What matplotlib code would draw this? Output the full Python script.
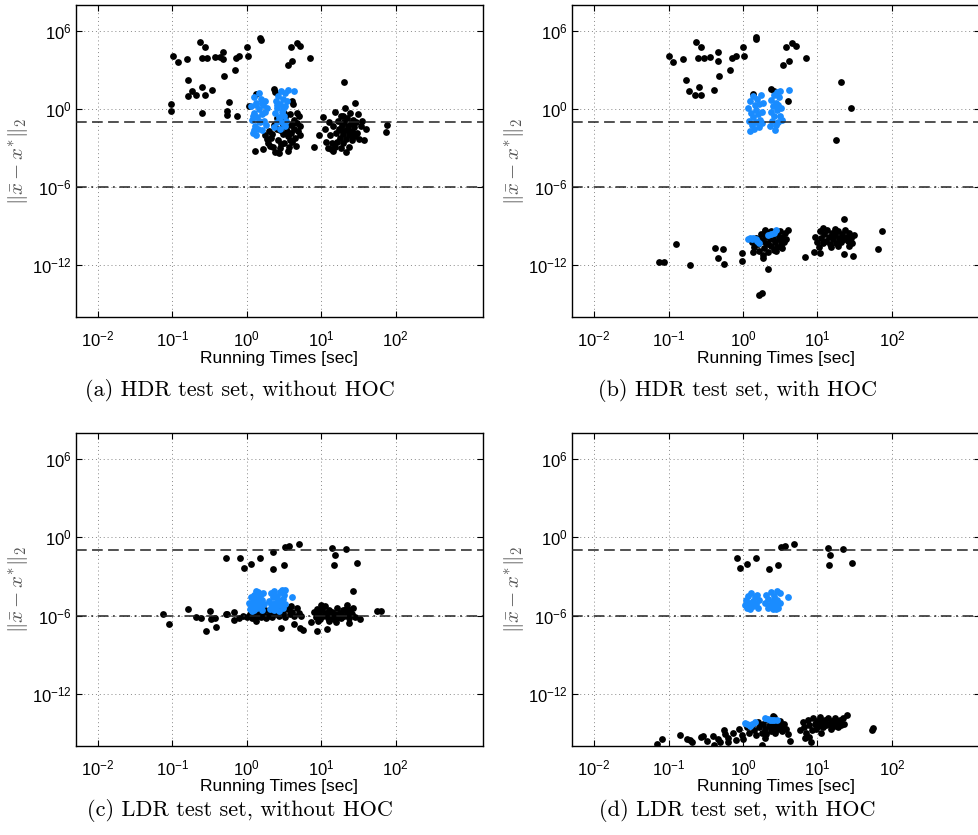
import numpy as np
import matplotlib
matplotlib.use("Agg")
import matplotlib.pyplot as plt
from matplotlib.ticker import FixedLocator, FixedFormatter, NullLocator

plt.rcParams['font.family'] = ['Liberation Sans', 'DejaVu Sans']
plt.rcParams['mathtext.fontset'] = 'custom'
plt.rcParams['mathtext.rm'] = 'Liberation Sans'
plt.rcParams['mathtext.it'] = 'Liberation Sans:italic'
plt.rcParams['mathtext.sf'] = 'Liberation Sans'

# ---- data: (log10 running time [sec], log10 error) ----
a_black = [(-0.995,4.10),(-0.93,3.59),(-0.80,3.82),(-0.63,5.13),(-0.565,4.74),(-0.60,3.92),(-0.53,3.92),
           (-0.43,4.03),(-0.354,4.03),(-0.32,4.41),(-0.32,3.85),(-0.14,3.92),(-0.11,4.05),(0.00,4.74),
           (0.01,4.10),(-0.16,3.03),(-0.31,2.51),(-0.79,2.21),(-0.74,1.36),(-0.79,1.00),(-0.68,1.10),
           (-0.60,1.69),(-0.565,1.10),(-0.47,1.44),(-1.02,0.38),(-1.02,-0.13),(-0.605,-0.33),(-0.24,0.51),
           (-0.26,-0.15),(-0.26,-0.46),(-0.13,-0.51),(0.03,0.23),(0.18,5.46),(0.19,5.28),(0.59,4.74),
           (0.67,5.05),(0.72,4.85),(0.555,3.41),(0.61,3.67),(0.85,3.90),(1.31,2.05),(1.89,-1.23),
           (1.87,-1.79),(0.90,-2.95),(0.11,-3.21),(0.12,1.15),(0.37,1.54),(0.38,1.33),(0.61,0.64),(0.62,0.38),
           # cluster near 2-5 s
           (0.25,-2.0),(0.28,-2.6),(0.22,-3.1),(0.30,-1.7),(0.33,-2.2),(0.35,-2.9),(0.38,-3.3),(0.40,-1.5),
           (0.42,-2.4),(0.45,-3.0),(0.47,-1.0),(0.48,-1.9),(0.50,-2.6),(0.52,-0.6),(0.53,-1.4),(0.55,-2.1),
           (0.56,-3.2),(0.58,-0.4),(0.59,-1.2),(0.60,-1.8),(0.61,-2.5),(0.63,-0.8),(0.64,-1.5),(0.65,-2.2),
           (0.66,-2.8),(0.68,-1.1),(0.69,-1.7),(0.70,-0.5),(0.71,-2.0),(0.72,-1.3),(0.36,-1.2),(0.40,-0.7),
           (0.44,-1.6),(0.50,-0.3),(0.27,-2.3),(0.31,-2.8),(0.34,-1.9),(0.46,-2.7),(0.54,-1.7),(0.57,-2.9),
           (0.62,-1.1),(0.67,-0.3),(0.43,-3.4),(0.49,-1.2),(0.58,-2.4),
           # cluster near 10-40 s
           (0.97,-2.0),(1.02,-0.6),(1.05,-1.5),(1.07,-2.5),(1.10,-1.0),(1.12,-2.0),(1.14,-2.6),(1.16,-1.3),
           (1.18,-0.2),(1.20,-1.8),(1.21,-2.5),(1.22,-0.9),(1.24,-1.5),(1.25,-2.2),(1.26,-3.0),(1.27,-0.5),
           (1.28,-1.2),(1.29,-1.9),(1.30,-2.6),(1.31,-1.0),(1.32,0.1),(1.33,-1.6),(1.34,-2.3),(1.35,-0.7),
           (1.36,-1.3),(1.37,-2.0),(1.38,-2.9),(1.39,-0.3),(1.40,-1.1),(1.41,-1.7),(1.42,-2.4),(1.43,-0.8),
           (1.44,-1.4),(1.45,-2.1),(1.46,0.5),(1.47,-1.0),(1.48,-1.8),(1.50,-0.4),(1.51,-2.3),(1.53,-1.3),
           (1.55,-0.9),(1.57,-2.4),(1.60,-1.5),(1.13,-3.1),(1.16,-3.2),(1.33,-3.3),(1.30,-0.5),(1.36,-1.6),
           (1.40,-2.0),(1.26,-1.6),(1.44,-1.1),(1.19,-2.9),(1.09,-3.0)]
a_blue = [(0.06,0.2),(0.07,-0.8),(0.08,-1.8),(0.09,0.9),(0.10,-0.3),(0.11,-1.3),(0.12,-2.0),(0.13,0.5),
          (0.14,-0.6),(0.15,-1.5),(0.16,1.2),(0.17,0.0),(0.18,-1.0),(0.19,0.8),(0.20,-0.4),(0.21,-1.6),
          (0.22,0.3),(0.23,-0.9),(0.24,0.6),(0.25,-0.2),(0.26,-1.2),(0.27,0.1),(0.08,-0.5),(0.12,0.3),
          (0.16,-0.9),(0.20,0.5),(0.10,-1.6),
          (0.37,-1.4),(0.38,-0.3),(0.39,0.6),(0.40,-1.0),(0.41,0.1),(0.42,1.0),(0.43,-0.6),(0.44,-1.5),
          (0.45,0.4),(0.46,1.4),(0.47,-0.2),(0.48,-1.1),(0.49,0.8),(0.50,-0.5),(0.51,1.2),(0.52,0.2),
          (0.53,-0.9),(0.54,0.6),(0.55,1.5),(0.40,0.3),(0.44,-0.9),(0.48,0.0),(0.52,-1.3),(0.63,1.41)]

b_black = [(-1.00,4.10),(-0.94,3.59),(-0.80,3.82),(-0.63,5.13),(-0.565,4.74),(-0.60,3.92),(-0.52,3.92),
           (-0.44,4.03),(-0.34,4.41),(-0.34,3.72),(-0.15,3.92),(-0.09,4.05),(0.00,4.74),(0.01,4.10),
           (-0.17,3.03),(-0.32,2.51),(-0.77,2.21),(-0.73,1.36),(-0.65,1.10),(-0.59,1.69),(-0.565,1.10),
           (-0.39,1.44),(0.17,5.38),(0.18,5.51),(0.58,4.74),(0.66,5.05),(0.71,4.85),(0.54,3.41),(0.62,3.67),
           (0.85,3.90),(1.31,2.05),(1.45,0.05),(1.25,-2.36),(0.61,0.64),(0.14,1.15),(0.38,1.54),(0.41,1.36),
           # lower points
           (-1.125,-11.72),(-1.06,-11.72),(-0.906,-10.38),(-0.71,-11.95),(-0.377,-10.69),(-0.27,-10.77),
           (-0.33,-11.41),(-0.26,-11.87),(-0.01,-11.03),(-0.01,-11.67),(0.13,-10.95),(0.30,-9.31),
           (0.34,-12.31),(0.22,-14.28),(0.25,-14.15),(0.27,-11.41),(0.83,-11.38),(0.95,-10.95),(1.04,-11.03),
           (1.36,-8.41),(1.35,-11.15),(1.48,-11.28),(1.81,-10.77),(1.86,-9.36),
           (0.12,-10.2),(0.15,-10.6),(0.18,-9.9),(0.20,-10.4),(0.22,-10.9),(0.24,-9.6),(0.26,-10.1),
           (0.28,-10.7),(0.30,-9.8),(0.31,-10.3),(0.33,-11.0),(0.35,-9.5),(0.36,-10.0),(0.38,-10.5),
           (0.40,-9.9),(0.41,-10.8),(0.43,-10.2),(0.45,-9.6),(0.46,-10.6),(0.48,-10.0),(0.50,-9.4),
           (0.51,-10.4),(0.53,-9.8),(0.55,-10.2),(0.57,-9.5),(0.58,-10.0),(0.60,-9.3),(0.27,-11.2),
           (0.22,-10.0),(0.34,-10.4),(0.44,-10.9),(0.52,-10.7),(0.38,-9.4),(0.29,-9.4),
           (0.97,-9.8),(1.00,-10.2),(1.03,-9.4),(1.05,-9.9),(1.07,-10.3),(1.09,-9.6),(1.11,-10.1),
           (1.13,-9.3),(1.15,-9.8),(1.17,-10.4),(1.19,-9.5),(1.21,-10.0),(1.23,-9.7),(1.25,-10.3),
           (1.27,-9.4),(1.29,-9.9),(1.31,-10.2),(1.33,-9.6),(1.35,-10.0),(1.37,-9.3),(1.39,-9.8),
           (1.41,-10.1),(1.43,-9.5),(1.45,-9.9),(1.47,-10.3),(1.49,-9.7),(1.08,-9.1),(1.18,-10.6),
           (1.28,-10.5),(1.42,-10.5),(1.02,-10.6),(1.24,-9.2)]
b_blue = [(0.07,0.1),(0.08,-0.9),(0.09,-1.7),(0.10,0.6),(0.11,-0.3),(0.12,-1.2),(0.13,1.0),(0.14,-0.6),
          (0.15,-1.5),(0.16,0.3),(0.17,-0.1),(0.18,-1.0),(0.19,0.8),(0.20,-0.4),(0.21,-1.4),(0.22,0.4),
          (0.23,-0.8),(0.24,1.1),(0.25,-0.2),(0.26,-1.1),(0.27,0.5),(0.36,-1.3),(0.37,-0.2),(0.38,0.7),
          (0.39,-0.9),(0.40,0.2),(0.41,1.1),(0.42,-0.5),(0.43,-1.6),(0.44,0.5),(0.45,1.3),(0.46,-0.1),
          (0.47,-1.0),(0.48,0.9),(0.49,-0.5),(0.50,1.4),(0.51,0.1),(0.52,-0.8),(0.44,-1.2),(0.47,0.3),
          (0.62,1.46),
          (0.07,-9.95),(0.10,-9.9),(0.14,-9.87),(0.17,-10.0),(0.21,-10.26),(0.19,-10.1),(0.34,-9.69),
          (0.37,-9.6),(0.41,-9.49),(0.44,-9.28),(0.12,-10.0)]

c_black = [(-0.28,-1.56),(-0.085,-1.56),(-0.04,-2.33),(0.05,-2.03),(0.18,-1.56),(0.35,-1.13),(0.35,-2.41),
           (0.51,-0.74),(0.57,-0.67),(0.50,-2.08),(0.70,-0.54),(1.15,-0.79),(1.18,-1.33),(1.17,-2.15),
           (1.34,-0.90),(1.48,-2.0),(1.43,-4.15),
           (-1.13,-5.92),(-1.05,-6.62),(-0.79,-5.49),(-0.69,-6.10),(-0.61,-6.21),(-0.55,-7.18),(-0.49,-5.64),
           (-0.48,-6.26),(-0.41,-6.87),(-0.43,-6.20),(-0.28,-5.87),(-0.26,-5.87),(-0.17,-5.74),(-0.17,-6.38),
           (-0.10,-6.2),(-0.05,-6.05),(0.46,-6.95),(0.63,-6.62),(0.72,-6.97),(0.76,-7.08),(0.86,-6.51),
           (0.94,-7.15),(1.08,-7.0),(1.35,-5.18),(1.75,-5.64),(1.80,-5.67),(0.12,-6.4),(1.52,-6.3),(1.38,-6.6),
           (0.00,-6.1),(0.04,-5.9),(0.07,-6.2),(0.10,-5.8),(0.13,-6.0),(0.16,-5.7),(0.19,-6.1),(0.22,-5.9),
           (0.25,-5.6),(0.28,-6.0),(0.31,-5.8),(0.34,-6.1),(0.37,-5.7),(0.40,-5.9),(0.43,-6.0),(0.46,-5.6),
           (0.49,-5.8),(0.52,-6.1),(0.55,-5.5),(0.58,-5.9),(0.61,-5.7),(0.64,-6.0),(0.67,-5.4),(0.70,-5.8),
           (0.20,-5.5),(0.35,-5.4),(0.50,-5.3),(0.60,-5.3),(0.73,-6.0),(0.26,-6.2),
           (0.90,-5.7),(0.93,-6.1),(0.95,-5.5),(0.97,-5.9),(0.99,-6.3),(1.01,-5.6),(1.03,-6.0),(1.05,-5.3),
           (1.07,-5.8),(1.09,-6.2),(1.11,-5.6),(1.13,-6.0),(1.15,-5.7),(1.17,-6.3),(1.19,-5.9),(1.21,-5.4),
           (1.23,-6.1),(1.25,-5.8),(1.27,-6.2),(1.29,-5.6),(1.31,-6.0),(1.33,-5.5),(1.35,-5.9),(1.37,-6.2),
           (1.39,-5.6),(1.41,-5.9),(1.43,-5.4),(1.45,-6.1),(1.00,-5.2),(1.20,-6.5),(1.10,-6.4),(0.96,-6.4)]
c_blue = [(0.03,-5.0),(0.04,-5.5),(0.05,-4.6),(0.06,-5.2),(0.08,-4.9),(0.09,-5.6),(0.10,-4.4),(0.11,-5.1),
          (0.13,-4.7),(0.14,-5.4),(0.15,-4.2),(0.16,-5.0),(0.18,-4.5),(0.19,-5.3),(0.20,-4.8),(0.21,-5.6),
          (0.22,-4.3),(0.23,-5.1),(0.12,-4.15),(0.07,-5.65),(0.30,-4.9),(0.31,-5.5),(0.32,-4.3),(0.33,-5.1),
          (0.35,-4.6),(0.36,-5.6),(0.37,-4.1),(0.38,-5.0),(0.40,-4.5),(0.41,-5.3),(0.42,-4.8),(0.43,-5.65),
          (0.44,-4.2),(0.45,-5.0),(0.47,-4.0),(0.48,-4.7),(0.49,-5.4),(0.50,-4.4),(0.51,-5.1),(0.52,-4.05),
          (0.34,-5.3),(0.46,-5.2),(0.61,-4.56)]

d_black = [(-0.085,-1.59),(-0.04,-2.31),(0.05,-2.03),(0.18,-1.59),(0.35,-2.41),(0.475,-2.08),(0.51,-0.74),
           (0.57,-0.62),(0.69,-0.54),(1.14,-0.79),(1.17,-1.33),(1.16,-2.15),(1.34,-0.90),(1.47,-2.0),
           (-1.15,-15.85),(-1.09,-15.49),(-0.84,-15.15),(-0.75,-15.49),(-0.71,-15.6),(-0.68,-15.74),
           (-0.57,-15.36),(-0.54,-15.28),(-0.49,-15.67),(-0.40,-15.23),(-0.39,-15.92),(-0.33,-15.5),
           (-0.31,-15.74),(-0.26,-14.82),(-0.24,-15.1),(-0.20,-15.4),(-0.14,-15.0),(-0.10,-15.6),
           (-0.06,-14.7),(-0.02,-15.2),(0.00,-15.5),(-0.20,-15.75),
           (0.05,-14.6),(0.08,-15.0),(0.12,-14.4),(0.15,-14.8),(0.18,-15.2),(0.20,-14.2),(0.22,-14.6),
           (0.25,-15.0),(0.27,-14.3),(0.29,-14.7),(0.31,-15.1),(0.33,-14.0),(0.35,-14.5),(0.37,-14.9),
           (0.39,-14.2),(0.41,-14.6),(0.43,-15.0),(0.45,-14.3),(0.47,-14.7),(0.49,-14.1),(0.51,-14.5),
           (0.53,-14.9),(0.55,-14.3),(0.58,-14.7),(0.61,-15.1),(0.63,-15.67),(0.40,-13.7),(0.42,-13.8),
           (0.25,-15.92),(0.30,-15.4),
           (0.77,-14.8),(0.80,-14.2),(0.82,-14.6),(0.85,-15.0),(0.87,-14.0),(0.89,-14.4),(0.91,-15.74),
           (0.92,-14.8),(0.94,-13.9),(0.96,-14.3),(0.98,-14.7),(1.00,-14.1),(1.02,-14.5),(1.04,-13.8),
           (1.06,-14.2),(1.08,-14.6),(1.10,-14.0),(1.12,-14.4),(1.14,-13.9),(1.16,-14.3),(1.18,-14.7),
           (1.20,-14.1),(1.22,-14.5),(1.24,-13.9),(1.26,-14.2),(1.28,-14.6),(1.30,-14.0),(1.32,-14.4),
           (1.34,-13.9),(1.36,-14.3),(1.39,-13.62),(0.88,-15.3),(1.05,-15.0),(0.83,-15.4),
           (1.73,-14.82),(1.75,-14.64)]
d_blue = [(0.03,-5.2),(0.04,-4.8),(0.06,-5.4),(0.07,-4.5),(0.09,-5.0),(0.10,-5.5),(0.11,-4.3),(0.13,-4.9),
          (0.14,-5.3),(0.16,-4.6),(0.17,-5.1),(0.19,-4.4),(0.20,-5.45),(0.21,-4.8),(0.30,-5.0),(0.31,-4.4),
          (0.33,-5.4),(0.34,-4.7),(0.36,-5.2),(0.37,-4.2),(0.39,-4.9),(0.40,-5.5),(0.42,-4.5),(0.43,-5.1),
          (0.45,-4.1),(0.46,-4.8),(0.47,-5.4),(0.49,-4.3),(0.50,-5.0),(0.44,-5.5),(0.61,-4.56),
          (0.03,-14.26),(0.06,-14.35),(0.09,-14.46),(0.12,-14.35),(0.16,-14.2),(0.30,-13.87),(0.33,-13.95),
          (0.36,-14.05),(0.39,-14.05),(0.42,-14.0),(0.45,-14.05)]

captions = ["(a) HDR test set, without HOC", "(b) HDR test set, with HOC",
            "(c) LDR test set, without HOC", "(d) LDR test set, with HOC"]
x_ticks = [1e-2, 1e-1, 1e0, 1e1, 1e2]
x_ticklabels = [r'$10^{-2}$', r'$10^{-1}$', r'$10^{0}$', r'$10^{1}$', r'$10^{2}$']
y_ticks = [1e-12, 1e-6, 1e0, 1e6]
y_ticklabels = [r'$10^{-12}$', r'$10^{-6}$', r'$10^{0}$', r'$10^{6}$']
tol_dashed = 1e-1
tol_dashdot = 1e-6

BLUE = '#1a8cff'
W, H = 979, 835
fig = plt.figure(figsize=(W/100, H/100), dpi=100)

# axes boxes in pixels: (left, top, right, bottom)
boxes = [(75.7, 5.0, 483.0, 317.3), (571.7, 5.0, 979.5, 317.3),
         (75.7, 433.3, 483.0, 745.7), (571.7, 433.3, 979.5, 745.7)]
cap_pos = [(240, 390), (738, 390), (240, 811), (737, 811)]
data = [(a_black, a_blue), (b_black, b_blue), (c_black, c_blue), (d_black, d_blue)]

for i, (box, (blk, blu)) in enumerate(zip(boxes, data)):
    l, t, r, b = box
    ax = fig.add_axes([l/W, 1 - b/H, (r-l)/W, (b-t)/H])
    ax.set_xscale('log')
    ax.set_yscale('log')
    ax.set_xlim(0.005, 1500)
    ax.set_ylim(1e-16, 1e8)
    bk = np.array(blk)
    bl = np.array(blu)
    ax.scatter(10**bk[:, 0], 10**bk[:, 1], s=24, color='black', linewidths=0, zorder=3)
    ax.scatter(10**bl[:, 0], 10**bl[:, 1], s=24, color=BLUE, linewidths=0, zorder=4)
    ax.axhline(tol_dashed, color='#222222', lw=1.1, dashes=(7, 3.5), zorder=5)
    ax.axhline(tol_dashdot, color='#222222', lw=1.1, dashes=(7, 3, 1.2, 3), zorder=5)
    ax.xaxis.set_major_locator(FixedLocator(x_ticks))
    ax.xaxis.set_major_formatter(FixedFormatter(x_ticklabels))
    ax.yaxis.set_major_locator(FixedLocator(y_ticks))
    ax.yaxis.set_major_formatter(FixedFormatter(y_ticklabels))
    ax.xaxis.set_minor_locator(NullLocator())
    ax.yaxis.set_minor_locator(NullLocator())
    ax.grid(True, which='major', linestyle=(0, (1, 3)), color='#888888', lw=0.7)
    ax.tick_params(direction='in', top=True, right=True, length=4, width=0.8,
                   labelsize=12, colors='black')
    ax.tick_params(axis='x', pad=9)
    ax.tick_params(axis='y', pad=3)
    for sp in ax.spines.values():
        sp.set_linewidth(1.0)
    ax.set_xlabel('Running Times [sec]', fontsize=12.5, labelpad=1)
    ax.set_ylabel(r'$\|\bar{x} - x^{*}\|_2$', fontsize=15, color='#555555',
                  math_fontfamily='cm', labelpad=1)
    fig.text(cap_pos[i][0]/W, 1 - cap_pos[i][1]/H, captions[i], ha='center', va='center',
             fontsize=16, fontname='cmr10')

fig.savefig('out.png', dpi=100)
